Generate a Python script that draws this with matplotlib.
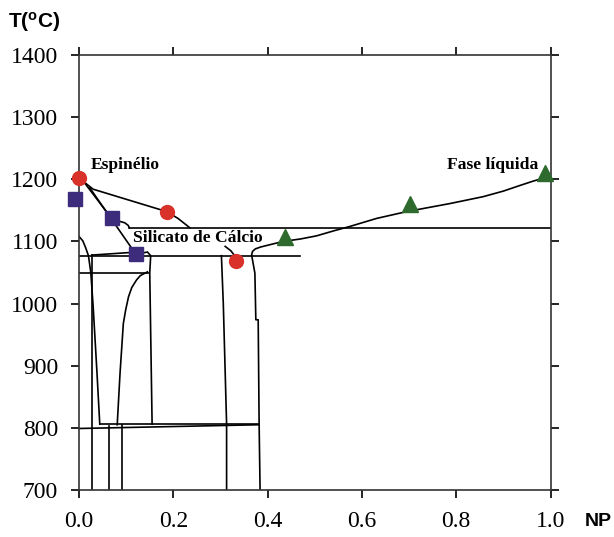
import matplotlib
matplotlib.use('Agg')
import matplotlib.pyplot as plt

# Pontos experimentais
esp_x = [0.0, 0.186, 0.334]
esp_y = [1202, 1148, 1068]
sil_x = [-0.008, 0.069, 0.121]
sil_y = [1169, 1137, 1079]
liq_x = [0.437, 0.702, 0.988]
liq_y = [1107, 1161, 1210]

# Linhas horizontais (T, x inicial, x final)
h_lines = [
    (1122, 0.107, 1.0),
    (1077, 0.0, 0.468),
    (1050, 0.0, 0.148),
]

# Linhas verticais (x, T inferior, T superior)
v_lines = [
    (0.027, 700, 1078),
    (0.064, 700, 803),
    (0.092, 700, 804),
]

# Curvas do diagrama
curves = {
    'esp_top': ([0.0, 0.03, 0.186, 0.21, 0.235], [1202, 1184, 1148, 1137, 1122]),
    'esp_sq2': ([0.013, 0.069, 0.083, 0.097, 0.104, 0.107], [1193, 1137, 1133, 1130, 1126, 1122]),
    'esp_sq3': ([0.023, 0.121], [1186, 1079]),
    'sq3_left': ([0.027, 0.105, 0.121], [1078, 1082, 1079]),
    'sq3_right': ([0.121, 0.145, 0.152, 0.150, 0.155], [1079, 1083, 1077, 1050, 806]),
    'curve_e': ([0.145, 0.130, 0.122, 0.112, 0.105, 0.099, 0.094, 0.087, 0.081],
                [1051, 1045, 1038, 1026, 1011, 990, 968, 888, 805]),
    'curve_left': ([0.0, 0.008, 0.014, 0.020, 0.025, 0.030, 0.038, 0.044],
                   [1108, 1101, 1090, 1077, 1050, 995, 890, 806]),
    'curve_g': ([0.302, 0.306, 0.313, 0.313], [1077, 1000, 806, 700]),
    'to_circle3': ([0.31, 0.322, 0.330, 0.334], [1092, 1085, 1077, 1070]),
    'liquidus': ([0.384, 0.382, 0.380, 0.375, 0.373, 0.368, 0.366, 0.368, 0.374, 0.385, 0.433,
                  0.470, 0.504, 0.540, 0.574, 0.631, 0.695, 0.787, 0.857, 0.900, 0.935, 0.963, 0.999],
                 [700, 805, 974, 974, 1049, 1070, 1078, 1084, 1088, 1091, 1100,
                  1104, 1109, 1117, 1124, 1137, 1148, 1161, 1172, 1181, 1190, 1197, 1205]),
    'solid_800a': ([0.0, 0.38], [799, 805]),
    'solid_800b': ([0.044, 0.38], [806, 806]),
}

x_ticks = [0.0, 0.2, 0.4, 0.6, 0.8, 1.0]
y_ticks = [700, 800, 900, 1000, 1100, 1200, 1300, 1400]

fig = plt.figure(figsize=(6.14, 5.37), dpi=100)
ax = fig.add_axes([0.1287, 0.0875, 0.7679, 0.8101])

lw = 1.2
for y, x0, x1 in h_lines:
    ax.plot([x0, x1], [y, y], color='black', lw=lw)
for x, y0, y1 in v_lines:
    ax.plot([x, x], [y0, y1], color='black', lw=lw)
for name, (xs, ys) in curves.items():
    ax.plot(xs, ys, color='black', lw=lw)

ax.plot(esp_x, esp_y, 'o', color='#d8322a', markersize=10, zorder=5, clip_on=False)
ax.plot(sil_x, sil_y, 's', color='#3d2b7c', markersize=10, zorder=5, clip_on=False)
ax.plot(liq_x, liq_y, '^', color='#2e6a2d', markersize=11, zorder=5, clip_on=False)

serif = 'Liberation Serif'
ax.text(0.025, 1223, 'Espinélio', family=serif, fontweight='bold', fontsize=12.6, va='center')
ax.text(0.115, 1105, 'Silicato de Cálcio', family=serif, fontweight='bold', fontsize=12.6, va='center')
ax.text(0.78, 1223, 'Fase líquida', family=serif, fontweight='bold', fontsize=12.6, va='center')

ax.set_xlim(0, 1.0)
ax.set_ylim(700, 1400)
ax.set_xticks(x_ticks)
ax.set_xticklabels(['%.1f' % v for v in x_ticks])
ax.set_yticks(y_ticks)
ax.tick_params(direction='out', length=6, width=1.2, top=True, right=True,
               labelsize=17, pad=9)
for lab in ax.get_xticklabels() + ax.get_yticklabels():
    lab.set_family(serif)
for sp in ax.spines.values():
    sp.set_linewidth(1.2)
    sp.set_color('#333333')

fig.text(8 / 614, 1 - 22 / 537, r'T($\mathregular{^o}$C)', family='Liberation Sans',
         fontweight='bold', fontsize=15, va='center')
fig.text(585 / 614, 1 - 521 / 537, 'NP', family='Liberation Sans',
         fontweight='bold', fontsize=14, va='center')

fig.savefig('out.png', dpi=100)
